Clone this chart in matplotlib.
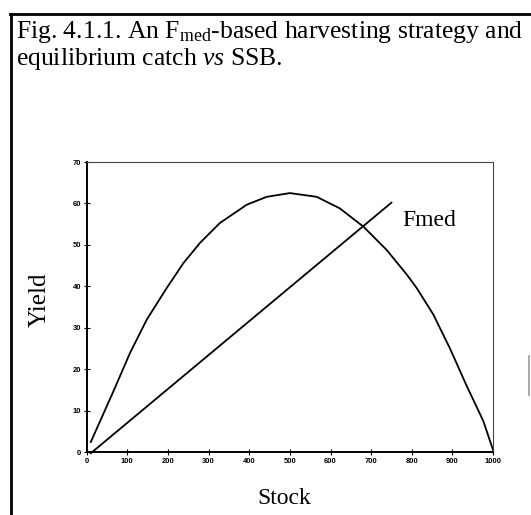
import matplotlib
matplotlib.use('Agg')
import matplotlib.pyplot as plt
from matplotlib.lines import Line2D

plt.rcParams['mathtext.fontset'] = 'custom'
plt.rcParams['mathtext.rm'] = 'Liberation Serif'
plt.rcParams['mathtext.it'] = 'Liberation Serif:italic'

# Equilibrium yield curve
stock = [10, 40, 65, 107, 148, 197, 238, 279, 328, 394, 443, 500,
         566, 623, 681, 738, 788, 812, 853, 894, 935, 976, 1000]
yield_eq = [2.4, 9.0, 14.5, 24.0, 32.0, 39.6, 45.6, 50.5, 55.3, 59.7, 61.6, 62.5,
            61.6, 58.8, 54.4, 48.8, 42.8, 39.6, 33.2, 25.0, 16.0, 7.5, 0.5]

# Fmed replacement line
fmed_stock = [10, 750]
fmed_yield = [-0.3, 60.2]

xticks = list(range(0, 1001, 100))
yticks = list(range(0, 71, 10))

serif = 'Liberation Serif'

fig = plt.figure(figsize=(5.31, 5.15), dpi=100)
ax = fig.add_axes([0.1633, 0.1223, 0.7652, 0.5631])

ax.plot(stock, yield_eq, color='black', lw=1.3)
ax.plot(fmed_stock, fmed_yield, color='black', lw=1.3, clip_on=False)
ax.text(778, 56, 'Fmed', fontsize=17, family=serif, va='center', ha='left')

ax.set_xlim(0, 1000)
ax.set_ylim(0, 70)
ax.set_xticks(xticks)
ax.set_yticks(yticks)
ax.tick_params(axis='both', labelsize=5.5, direction='inout', length=4, width=0.8, pad=2)
for lab in ax.get_xticklabels() + ax.get_yticklabels():
    lab.set_fontweight('bold')
    lab.set_family('Liberation Sans')

for s in ['left', 'bottom']:
    ax.spines[s].set_linewidth(1.4)
for s in ['top', 'right']:
    ax.spines[s].set_linewidth(0.8)
    ax.spines[s].set_linestyle((0, (1, 1)))
    ax.spines[s].set_color('#444444')

fig.text(0.075, 0.4175, 'Yield', rotation=90, fontsize=18, family=serif,
         ha='center', va='center')
fig.text(0.535, 0.033, 'Stock', fontsize=17, family=serif, ha='center', va='center')

# caption box: first line is fitted to the box width
t1 = fig.text(16 / 531, 1 - 38 / 515,
              r'Fig. 4.1.1. An F$_{\mathrm{med}}$-based harvesting strategy and',
              fontsize=19, family=serif, ha='left', va='baseline')
renderer = fig.canvas.get_renderer()
w = t1.get_window_extent(renderer).width
fs = 19 * 507 / w
t1.set_fontsize(fs)
fig.text(16 / 531, 1 - 65 / 515, r'equilibrium catch $\mathit{vs}$ SSB.',
         fontsize=fs, family=serif, ha='left', va='baseline')

fig.add_artist(Line2D([10 / 531, 1.0], [1 - 14 / 515, 1 - 14 / 515],
                      transform=fig.transFigure, color='black', lw=2))
fig.add_artist(Line2D([11 / 531, 11 / 531], [1 - 14 / 515, 0.0],
                      transform=fig.transFigure, color='black', lw=2))
fig.add_artist(Line2D([529 / 531, 529 / 531], [1 - 356 / 515, 1 - 395 / 515],
                      transform=fig.transFigure, color='#999999', lw=1.2))

fig.savefig('out.png', dpi=100, facecolor='white')
